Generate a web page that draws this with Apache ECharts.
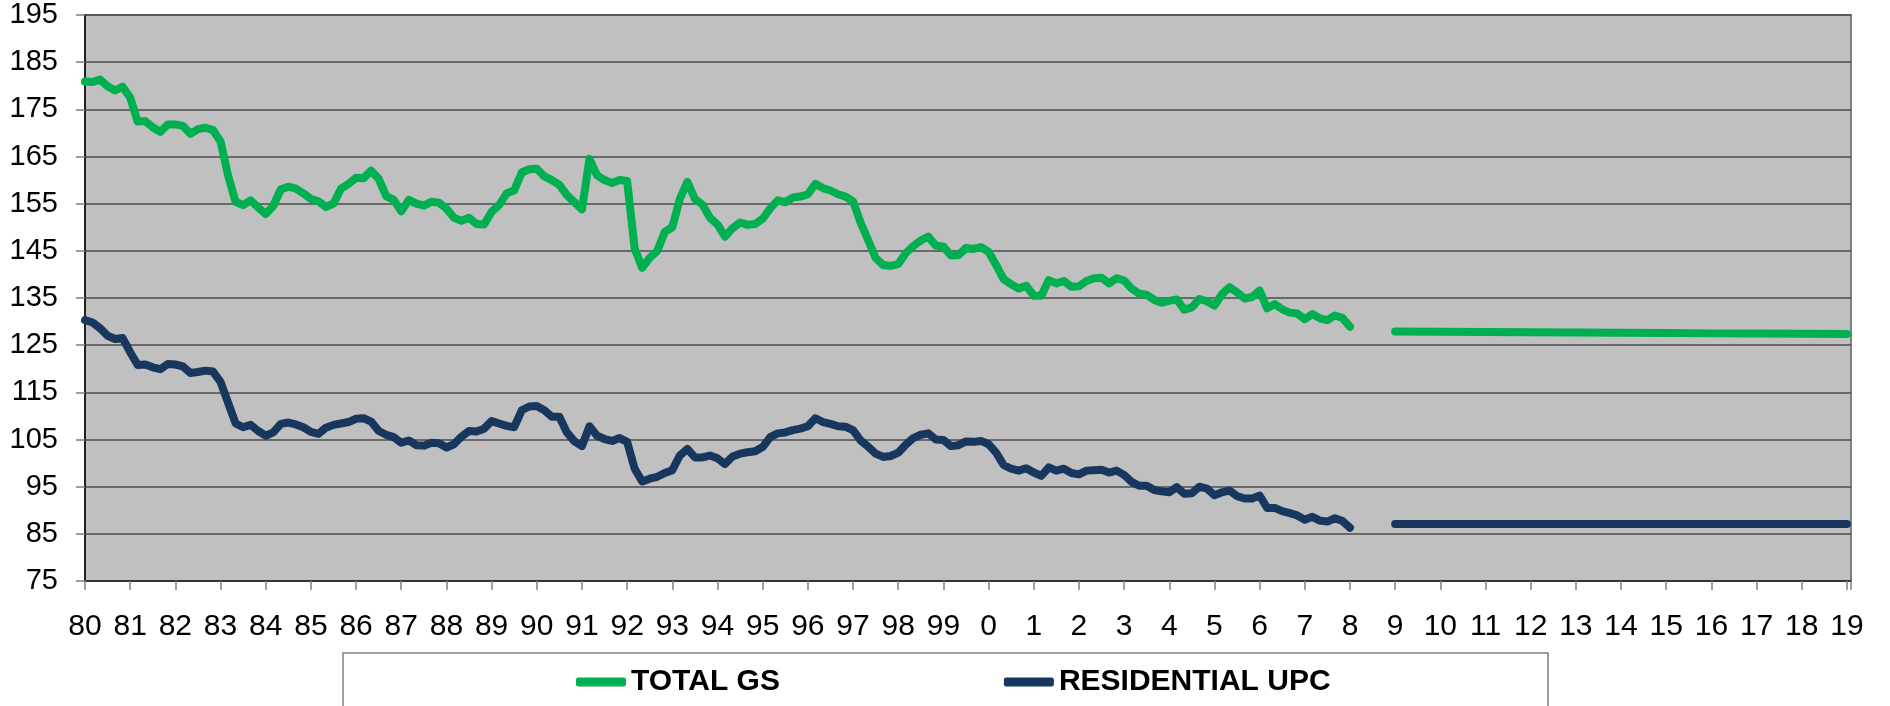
<!DOCTYPE html>
<html lang="en">

<head>
    <meta charset="UTF-8">
    <script type="text/javascript" src="https://cdn.jsdelivr.net/npm/echarts@6.0.0/dist/echarts.min.js"></script>
    <title>Total GS vs Residential UPC</title>
    <style>
        html, body { margin: 0; padding: 0; background: #fff; }
        #chart { width: 1890px; height: 706px; }
    </style>
</head>

<body>
    <div id="chart"></div>

    <script>
        // tick labels under the year ticks (1980 .. 2019)
        const yearLabels = ['80','81','82','83','84','85','86','87','88','89',
            '90','91','92','93','94','95','96','97','98','99',
            '0','1','2','3','4','5','6','7','8','9',
            '10','11','12','13','14','15','16','17','18','19'];

        // history, one value every 2 months, Jan 1980 .. Jan 2008
        const totalGs = [
            180.9, 180.8, 181.3, 179.9, 179.0, 179.8, 177.5, 172.4, 172.5, 171.2, 170.2, 171.8,
            171.8, 171.5, 169.8, 170.8, 171.1, 170.6, 168.2, 161.0, 155.4, 154.7, 155.7, 154.2,
            152.8, 154.5, 158.0, 158.6, 158.2, 157.2, 156.0, 155.5, 154.3, 155.0, 158.2, 159.2,
            160.5, 160.4, 162.0, 160.3, 156.6, 155.8, 153.4, 155.8, 155.0, 154.6, 155.4, 155.2,
            154.0, 152.0, 151.4, 152.0, 150.7, 150.6, 153.3, 154.7, 157.2, 157.8, 161.6, 162.3,
            162.4, 160.8, 160.0, 159.0, 156.8, 155.3, 153.8, 164.5, 161.0, 160.0, 159.4, 160.0,
            159.8, 145.5, 141.4, 143.5, 145.0, 149.0, 150.0, 156.0, 159.6, 156.0, 154.8, 152.0,
            150.6, 148.0, 149.8, 151.0, 150.5, 150.7, 151.8, 154.0, 155.7, 155.3, 156.3, 156.5,
            157.0, 159.2, 158.3, 157.8, 157.0, 156.5, 155.5, 151.0, 147.3, 143.5, 142.0, 141.8,
            142.2, 144.5, 146.0, 147.2, 148.0, 146.1, 145.9, 144.0, 144.1, 145.6, 145.4, 145.8,
            144.8, 142.0, 139.0, 137.9, 137.0, 137.6, 135.5, 135.5, 138.8, 138.1, 138.6, 137.4,
            137.5, 138.6, 139.2, 139.3, 138.1, 139.2, 138.7, 137.0, 135.9, 135.7, 134.6, 134.0,
            134.4, 134.7, 132.5, 133.0, 134.8, 134.3, 133.4, 135.8, 137.3, 136.2, 134.9, 135.2,
            136.6, 132.8, 133.7, 132.6, 131.9, 131.7, 130.5, 131.6, 130.7, 130.3, 131.3, 130.8,
            128.9
        ];
        const residentialUpc = [
            130.3, 129.8, 128.6, 127.0, 126.3, 126.5, 123.5, 120.8, 120.9, 120.3, 119.9, 121.0,
            120.9, 120.5, 119.1, 119.3, 119.6, 119.4, 117.2, 112.8, 108.4, 107.6, 108.1, 106.8,
            105.8, 106.5, 108.3, 108.6, 108.2, 107.6, 106.6, 106.2, 107.5, 108.1, 108.4, 108.7,
            109.4, 109.5, 108.8, 106.8, 106.0, 105.5, 104.3, 104.8, 103.8, 103.7, 104.3, 104.2,
            103.3, 104.0, 105.6, 106.8, 106.7, 107.3, 108.9, 108.4, 107.9, 107.6, 111.2, 112.0,
            112.1, 111.2, 109.8, 109.8, 106.5, 104.6, 103.6, 107.8, 105.8, 105.1, 104.7, 105.3,
            104.5, 98.8, 96.1, 96.7, 97.1, 97.9, 98.5, 101.6, 103.0, 101.2, 101.2, 101.6,
            101.0, 99.8, 101.4, 102.0, 102.3, 102.5, 103.4, 105.5, 106.3, 106.5, 107.0, 107.3,
            107.8, 109.5, 108.7, 108.3, 107.8, 107.7, 107.0, 104.8, 103.5, 102.0, 101.3, 101.5,
            102.2, 103.9, 105.3, 106.0, 106.3, 105.0, 104.9, 103.6, 103.8, 104.6, 104.5, 104.7,
            104.0, 102.2, 99.6, 98.8, 98.4, 98.9, 98.0, 97.3, 99.1, 98.4, 98.8, 97.9,
            97.6, 98.4, 98.5, 98.6, 98.0, 98.4, 97.5, 96.0, 95.2, 95.2, 94.3, 94.0,
            93.8, 94.9, 93.5, 93.6, 95.0, 94.6, 93.2, 93.8, 94.2, 93.0, 92.5, 92.5,
            93.1, 90.5, 90.5, 89.8, 89.4, 88.9, 88.0, 88.6, 87.8, 87.6, 88.3, 87.7,
            86.3
        ];

        // forecast, one value per year, Jan 2009 .. Jan 2019
        const totalGsForecast = [127.9, 127.85, 127.8, 127.75, 127.7, 127.65, 127.6, 127.5, 127.45, 127.4, 127.35];
        const residentialUpcForecast = [87.1, 87.1, 87.1, 87.1, 87.1, 87.1, 87.1, 87.1, 87.1, 87.1, 87.1];

        const FONT = '"Liberation Sans", Arial, sans-serif';

        // x = years since 1980; a null point breaks the line between history and forecast
        function buildSeries(history, forecast) {
            const pts = history.map((v, i) => [i / 6, v]);
            pts.push([28.5, null]);
            forecast.forEach((v, j) => pts.push([29 + j, v]));
            return pts;
        }

        const chart = echarts.init(document.getElementById('chart'));
        chart.setOption({
            animation: false,
            backgroundColor: '#fff',
            grid: {
                left: 85, right: 39, top: 15, bottom: 125,
                show: true,
                backgroundColor: '#c0c0c0',
                borderColor: '#808080',
                borderWidth: 2
            },
            xAxis: {
                type: 'value',
                min: 0,
                max: 39.09,
                interval: 1,
                axisLine: { lineStyle: { color: '#333', width: 2 } },
                axisTick: { show: true, length: 9, lineStyle: { color: '#808080', width: 1.5 } },
                splitLine: { show: false },
                axisLabel: {
                    margin: 31,
                    fontSize: 30,
                    color: '#000',
                    fontFamily: FONT,
                    formatter: v => (Number.isInteger(v) ? (yearLabels[v] || '') : '')
                }
            },
            yAxis: {
                type: 'value',
                min: 75,
                max: 195,
                interval: 10,
                axisLine: { show: true, lineStyle: { color: '#222', width: 2 } },
                axisTick: { show: true, length: 9, lineStyle: { color: '#808080', width: 1.5 } },
                splitLine: { lineStyle: { color: '#4d4d4d', width: 1.5 } },
                axisLabel: { margin: 27, fontSize: 29, color: '#000', fontFamily: FONT }
            },
            legend: {
                left: 571,
                top: 662,
                itemGap: 224,
                itemWidth: 50,
                itemHeight: 9,
                icon: 'roundRect',
                textStyle: { fontSize: 30, fontWeight: 'bold', color: '#000', fontFamily: FONT },
                data: ['TOTAL GS', 'RESIDENTIAL UPC']
            },
            graphic: [{
                type: 'rect',
                z: -1,
                shape: { x: 343, y: 653, width: 1205, height: 80 },
                style: { fill: '#fff', stroke: '#808080', lineWidth: 1.5 }
            }],
            series: [{
                name: 'TOTAL GS',
                type: 'line',
                symbol: 'none',
                color: '#00b050',
                lineStyle: { width: 8, cap: 'round', join: 'round' },
                data: buildSeries(totalGs, totalGsForecast)
            }, {
                name: 'RESIDENTIAL UPC',
                type: 'line',
                symbol: 'none',
                color: '#17375e',
                lineStyle: { width: 8, cap: 'round', join: 'round' },
                data: buildSeries(residentialUpc, residentialUpcForecast)
            }]
        });
    </script>
</body>

</html>
